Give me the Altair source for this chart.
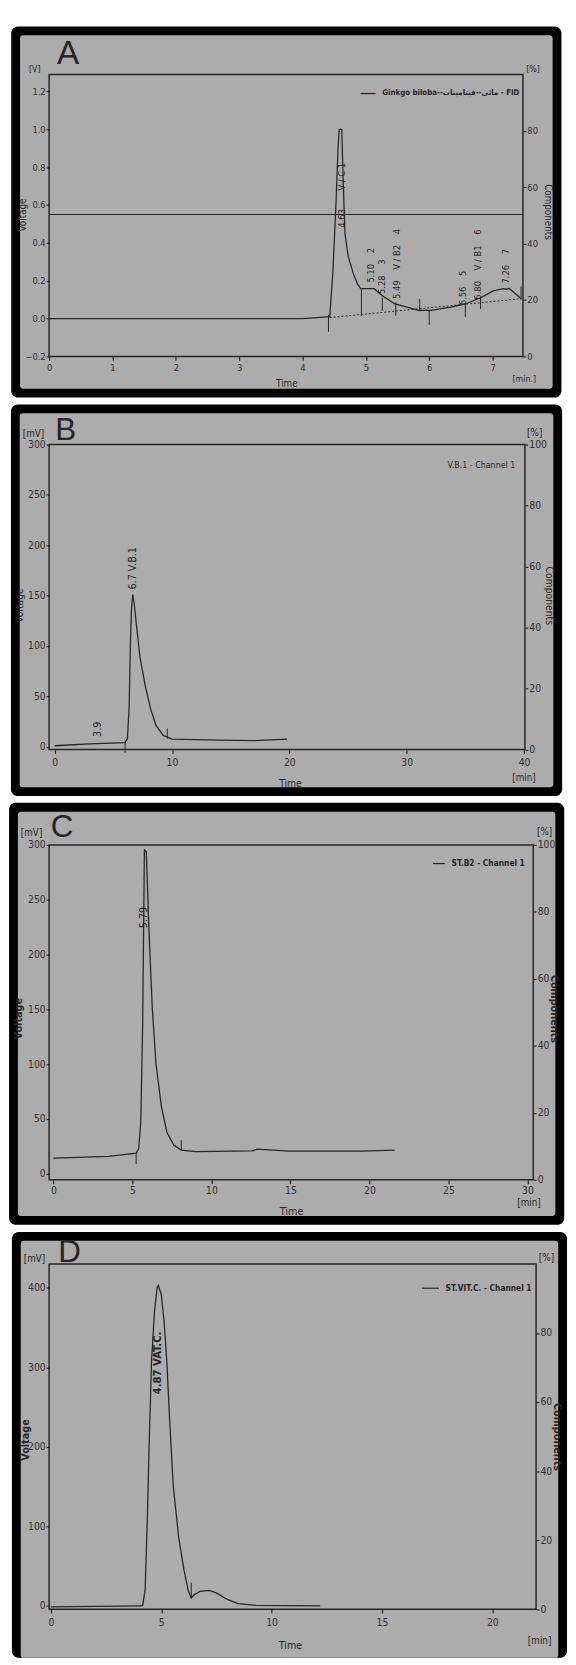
import altair as alt
import pandas as pd

FONT = "Liberation Sans Narrow, DejaVu Sans Condensed, Liberation Sans, sans-serif"
HAND = "Liberation Sans, DejaVu Sans, sans-serif"
INK = "#262626"
PAPER = "#acacac"
BORDER = 9
S = "\u00a0"  # non-collapsing space used inside the peak annotations

# ---------------- Panel A : Ginkgo biloba (FID) ----------------
a_series = ["Ginkgo biloba--مائی--فيتامينات - FID"]
a_t = [0.0, 2.0, 4.0, 4.43, 4.48, 4.53, 4.56, 4.58, 4.62, 4.64, 4.67, 4.72, 4.8, 4.87, 4.92,
       5.13, 5.26, 5.46, 5.65, 5.83, 6.03, 6.34, 6.57, 6.81, 7.01, 7.17, 7.22, 7.26, 7.35, 7.45]
a_v = [0.0, 0.0, 0.0, 0.01, 0.25, 0.62, 0.9, 1.0, 1.0, 0.75, 0.45, 0.33, 0.24, 0.18, 0.158,
       0.158, 0.12, 0.077, 0.06, 0.043, 0.043, 0.06, 0.077, 0.11, 0.146, 0.158, 0.155, 0.16, 0.135, 0.105]
a_base_t = [4.43, 7.45]
a_base_v = [0.005, 0.105]
a_hline = [0.55]
a_mk_t = [4.41, 4.93, 5.26, 5.47, 5.85, 6.0, 6.57, 6.81, 7.45]
a_mk_lo = [-0.07, 0.014, 0.04, 0.015, 0.039, -0.034, 0.009, 0.05, 0.1]
a_mk_hi = [0.02, 0.155, 0.11, 0.085, 0.104, 0.04, 0.077, 0.115, 0.17]
a_lab = ["4.63" + S * 7 + "V / C 1", "5.10" + S * 4 + "2", "5.28" + S * 4 + "3",
         "5.49" + S * 4 + "V / B2" + S * 4 + "4", "6.56" + S * 4 + "5",
         "6.80" + S * 4 + "V / B1" + S * 4 + "6", "7.26" + S * 4 + "7"]
a_lab_t = [4.63, 5.08, 5.26, 5.49, 6.53, 6.77, 7.22]
a_lab_v = [0.48, 0.19, 0.13, 0.103, 0.07, 0.10, 0.185]
a_xticks = [0, 1, 2, 3, 4, 5, 6, 7]
a_yticks = [-0.2, 0.0, 0.2, 0.4, 0.6, 0.8, 1.0, 1.2]
a_rticks = [0, 20, 40, 60, 80]

# ---------------- Panel B : V.B.1 ----------------
b_series = ["V.B.1 - Channel 1"]
b_t = [0.0, 3.0, 6.0, 6.2, 6.35, 6.45, 6.55, 6.66, 6.8, 6.96, 7.27, 7.73, 8.19, 8.65, 9.26, 10.0, 14.0, 17.0, 19.8]
b_v = [1.0, 2.8, 4.2, 8.0, 40.0, 100.0, 138.0, 151.0, 140.0, 122.0, 89.0, 60.0, 37.0, 21.0, 11.3, 7.5, 6.5, 6.0, 7.5]
b_mk_t = [6.0, 9.6]
b_mk_lo = [-6.0, 8.0]
b_mk_hi = [5.0, 18.0]
b_lab = ["3.9", "6.7 V.B.1"]
b_lab_t = [3.74, 6.66]
b_lab_v = [9.7, 156.0]
b_xticks = [0, 10, 20, 30, 40]
b_yticks = [0, 50, 100, 150, 200, 250, 300]
b_rticks = [0, 20, 40, 60, 80, 100]

# ---------------- Panel C : ST.B2 ----------------
c_series = ["ST.B2 - Channel 1"]
c_t = [0.0, 3.5, 5.24, 5.4, 5.53, 5.65, 5.76, 5.88, 6.04, 6.26, 6.49, 6.83, 7.18, 7.63, 8.09, 9.0,
       12.6, 12.9, 14.9, 19.5, 21.6]
c_v = [14.3, 16.0, 18.8, 23.0, 47.0, 136.0, 295.5, 294.0, 225.6, 151.0, 100.6, 62.0, 38.0, 26.0, 21.7,
       20.2, 21.0, 22.6, 20.8, 20.8, 21.7]
c_mk_t = [5.24, 8.09]
c_mk_lo = [9.0, 21.7]
c_mk_hi = [18.8, 30.7]
c_lab = ["5.79"]
c_lab_t = [5.76]
c_lab_v = [224.0]
c_xticks = [0, 5, 10, 15, 20, 25, 30]
c_yticks = [0, 50, 100, 150, 200, 250, 300]
c_rticks = [0, 20, 40, 60, 80, 100]

# ---------------- Panel D : ST.VIT.C. ----------------
d_series = ["ST.VIT.C. - Channel 1"]
d_t = [0.0, 2.0, 4.07, 4.16, 4.27, 4.37, 4.45, 4.56, 4.69, 4.81, 4.87, 5.0, 5.13, 5.25, 5.38, 5.54,
       5.79, 6.03, 6.23, 6.36, 6.49, 6.76, 7.17, 7.5, 7.99, 8.48, 9.29, 12.2]
d_v = [-1.0, -0.5, 0.0, 1.0, 20.5, 111.0, 201.0, 308.0, 369.0, 400.0, 403.0, 392.0, 357.0, 308.0,
       234.0, 152.0, 86.0, 45.0, 18.5, 10.0, 14.0, 18.5, 19.7, 16.4, 8.2, 2.9, 0.8, 0.0]
d_mk_t = [6.36]
d_mk_lo = [10.0]
d_mk_hi = [29.5]
d_lab = ["4.87 VAT.C."]
d_lab_t = [4.87]
d_lab_v = [266.0]
d_xticks = [0, 5, 10, 15, 20]
d_yticks = [0, 100, 200, 300, 400]
d_rticks = [0, 20, 40, 60, 80]

comp_range = [0, 100]


def panel(P):
    L, T, R, B = P["plot"]
    fx0, fy0, fx1, fy1 = P["frame"]
    W, H = R - L, B - T
    one = pd.DataFrame({"k": [0]})

    def px(x):
        return x - L

    def py(y):
        return y - T

    layers = []
    layers.append(alt.Chart(one).mark_rect(color="#000000", cornerRadius=7).encode(
        x=alt.value(px(fx0)), x2=alt.value(px(fx1)), y=alt.value(py(fy0)), y2=alt.value(py(fy1))))
    inner_bottom = fy1 if P["open"] else fy1 - BORDER
    layers.append(alt.Chart(one).mark_rect(color=PAPER, cornerRadius=3).encode(
        x=alt.value(px(fx0 + BORDER)), x2=alt.value(px(fx1 - BORDER)),
        y=alt.value(py(fy0 + BORDER)), y2=alt.value(py(inner_bottom))))
    layers.append(alt.Chart(one).mark_rect(fillOpacity=0, stroke=INK, strokeWidth=1.5).encode(
        x=alt.value(0), x2=alt.value(W), y=alt.value(0), y2=alt.value(H)))

    for txt, x, y, size, font, weight in P["notes"]:
        layers.append(alt.Chart(one).mark_text(
            text=txt, font=font, fontSize=size, fontWeight=weight, color=INK,
            align="center", baseline="middle").encode(x=alt.value(px(x)), y=alt.value(py(y))))

    xsc = alt.Scale(domain=P["xdom"], nice=False, zero=False)
    ysc = alt.Scale(domain=P["ydom"], nice=False, zero=False)
    tx, ty = P["xtitle"]
    vx, vy = P["ytitle"]
    cx, cy = P["rtitle"]
    lx, ly = P["legend"]

    df = pd.DataFrame({"t": P["t"], "v": P["v"], "series": P["series"] * len(P["t"])})
    line = alt.Chart(df).mark_line(strokeWidth=1.3).encode(
        x=alt.X("t:Q", scale=xsc, axis=alt.Axis(
            orient="bottom", values=P["xticks"], format="d", title="Time", titleX=px(tx),
            titleY=ty - B, titleAlign="center", titleBaseline="middle", titleFontSize=P["tsize"],
            titleFontWeight="normal", labelFontSize=P["lsize"], tickSize=4,
            labelPadding=P["xpad"], labelFlush=False, labelOverlap=False, zindex=1)),
        y=alt.Y("v:Q", scale=ysc, axis=alt.Axis(
            orient="left", values=P["yticks"], format=P["yfmt"], title="Voltage",
            titleAngle=270, titleX=px(vx), titleY=py(vy), titleAlign="center",
            titleBaseline="middle", titleFontSize=P["tsize"], titleFontWeight=P["tweight"],
            labelFontSize=P["lsize"], tickSize=3, labelPadding=1, labelOverlap=False, zindex=1)),
        color=alt.Color("series:N", scale=alt.Scale(range=[INK]), legend=alt.Legend(
            orient="none", legendX=px(lx), legendY=py(ly), title=None, symbolType="stroke",
            symbolSize=P["symsize"], symbolStrokeWidth=1.2, symbolStrokeColor=INK,
            symbolOpacity=P["symop"], labelFont=FONT, labelFontSize=P["legsize"],
            labelFontWeight=P["legweight"], labelColor=INK, labelLimit=400, labelOffset=6,
            padding=0, zindex=1)))

    inner_layers = [line]
    if P.get("base_t"):
        bdf = pd.DataFrame({"t": P["base_t"], "v": P["base_v"]})
        inner_layers.append(alt.Chart(bdf).mark_line(color=INK, strokeWidth=1, strokeDash=[2, 2]).encode(
            x="t:Q", y="v:Q"))
    if P.get("hline"):
        hdf = pd.DataFrame({"v": P["hline"]})
        inner_layers.append(alt.Chart(hdf).mark_rule(color=INK, strokeWidth=1.1).encode(y="v:Q"))
    mdf = pd.DataFrame({"t": P["mk_t"], "v": P["mk_lo"], "v2": P["mk_hi"]})
    inner_layers.append(alt.Chart(mdf).mark_rule(color=INK, strokeWidth=1).encode(
        x="t:Q", y="v:Q", y2="v2:Q"))
    ldf = pd.DataFrame({"t": P["lab_t"], "v": P["lab_v"], "lab": P["lab"]})
    inner_layers.append(alt.Chart(ldf).mark_text(
        angle=270, align="left", baseline="middle", font=FONT, fontSize=P["labsize"],
        fontWeight=P["labweight"], color=INK).encode(x="t:Q", y="v:Q", text="lab:N"))
    inner = alt.layer(*inner_layers)

    rdf = pd.DataFrame({"pct": comp_range})
    right = alt.Chart(rdf).mark_point(opacity=0).encode(
        y=alt.Y("pct:Q", scale=alt.Scale(domain=comp_range, nice=False, zero=False), axis=alt.Axis(
            orient="right", values=P["rticks"], format="d", title="Components", titleAngle=90,
            titleX=cx - R, titleY=py(cy), titleAlign="center", titleBaseline="middle",
            titleFontSize=P["tsize"], titleFontWeight=P["tweight"], labelFontSize=P["lsize"],
            tickSize=3, labelPadding=1, labelOverlap=False, zindex=1)))

    return alt.layer(*layers, inner, right).resolve_scale(y="independent").properties(width=W, height=H)


common = dict(open=False)

PA = dict(common, plot=(46.7, 57, 530.7, 345), frame=(8, 8, 570, 387),
          xdom=[0, 7.48], ydom=[-0.2, 1.29], t=a_t, v=a_v, series=a_series,
          base_t=a_base_t, base_v=a_base_v, hline=a_hline,
          mk_t=a_mk_t, mk_lo=a_mk_lo, mk_hi=a_mk_hi, lab=a_lab, lab_t=a_lab_t, lab_v=a_lab_v,
          xticks=a_xticks, yticks=a_yticks, rticks=a_rticks, yfmt=".1f",
          xtitle=(289, 373), ytitle=(20, 200), rtitle=(556, 197), legend=(364, 68),
          lsize=9.5, tsize=10, tweight="normal", xpad=2, labsize=9.5, labweight="normal",
          symsize=240, symop=1, legsize=8, legweight="bold",
          notes=[("A", 66, 36, 34, HAND, "normal"), ("[V]", 32, 51, 9, FONT, "normal"),
                 ("[%]", 541, 51, 9, FONT, "normal"), ("[min.]", 532, 368, 9, FONT, "normal")])

PB = dict(common, plot=(47, 433, 533, 744.5), frame=(8, 392, 571, 792),
          xdom=[-0.47, 40.07], ydom=[-2.7, 300], t=b_t, v=b_v, series=b_series,
          mk_t=b_mk_t, mk_lo=b_mk_lo, mk_hi=b_mk_hi, lab=b_lab, lab_t=b_lab_t, lab_v=b_lab_v,
          xticks=b_xticks, yticks=b_yticks, rticks=b_rticks, yfmt="d",
          xtitle=(293, 779), ytitle=(17, 597), rtitle=(557, 587), legend=(432, 446),
          lsize=10.5, tsize=10.5, tweight="normal", xpad=4, labsize=11, labweight="normal",
          symsize=200, symop=0, legsize=9, legweight="normal",
          notes=[("B", 64, 418, 32, HAND, "normal"), ("[mV]", 31, 422, 10, FONT, "normal"),
                 ("[%]", 543, 421, 10, FONT, "normal"), ("[min]", 532, 774, 10, FONT, "normal")])

PC = dict(common, plot=(48.9, 840, 543.4, 1182), frame=(8, 797, 575, 1228),
          xdom=[-0.27, 30.37], ydom=[-5.4, 300], t=c_t, v=c_v, series=c_series,
          mk_t=c_mk_t, mk_lo=c_mk_lo, mk_hi=c_mk_hi, lab=c_lab, lab_t=c_lab_t, lab_v=c_lab_v,
          xticks=c_xticks, yticks=c_yticks, rticks=c_rticks, yfmt="d",
          xtitle=(296, 1215), ytitle=(18, 1017), rtitle=(564, 1007), legend=(440, 852),
          lsize=10.5, tsize=11, tweight="bold", xpad=2, labsize=11, labweight="normal",
          symsize=150, symop=1, legsize=8.5, legweight="bold",
          notes=[("C", 62, 822, 32, HAND, "normal"), ("[mV]", 31, 828, 10, FONT, "normal"),
                 ("[%]", 555, 827, 10, FONT, "normal"), ("[min]", 539, 1206, 10, FONT, "normal")])

PD = dict(plot=(46, 1265.7, 543.4, 1618.3), frame=(8, 1233, 575, 1668), open=True,
          xdom=[-0.08, 21.98], ydom=[-4, 430], t=d_t, v=d_v, series=d_series,
          mk_t=d_mk_t, mk_lo=d_mk_lo, mk_hi=d_mk_hi, lab=d_lab, lab_t=d_lab_t, lab_v=d_lab_v,
          xticks=d_xticks, yticks=d_yticks, rticks=d_rticks, yfmt="d",
          xtitle=(292, 1656), ytitle=(22, 1445), rtitle=(564, 1442), legend=(426, 1281),
          lsize=10.5, tsize=11, tweight="bold", xpad=5, labsize=11.5, labweight="bold",
          symsize=300, symop=1, legsize=8.5, legweight="bold",
          notes=[("D", 67, 1254, 32, HAND, "normal"), ("[mV]", 31, 1261, 10, FONT, "normal"),
                 ("[%]", 554, 1260, 10, FONT, "normal"), ("[min]", 547, 1651, 10, FONT, "normal")])

chart = alt.vconcat(panel(PA), panel(PB), panel(PC), panel(PD), spacing=5).resolve_scale(
    color="independent", x="independent", y="independent").resolve_legend(color="independent")

chart = chart.properties(padding=0, background="#ffffff").configure_view(
    stroke="transparent").configure_axis(
    grid=False, domain=False, tickColor=INK, tickWidth=1.2, labelColor="#2e2e2e", labelFont=FONT,
    titleFont=FONT, titleColor=INK)

chart.save("out.html", embed_options={"renderer": "svg", "actions": False})
